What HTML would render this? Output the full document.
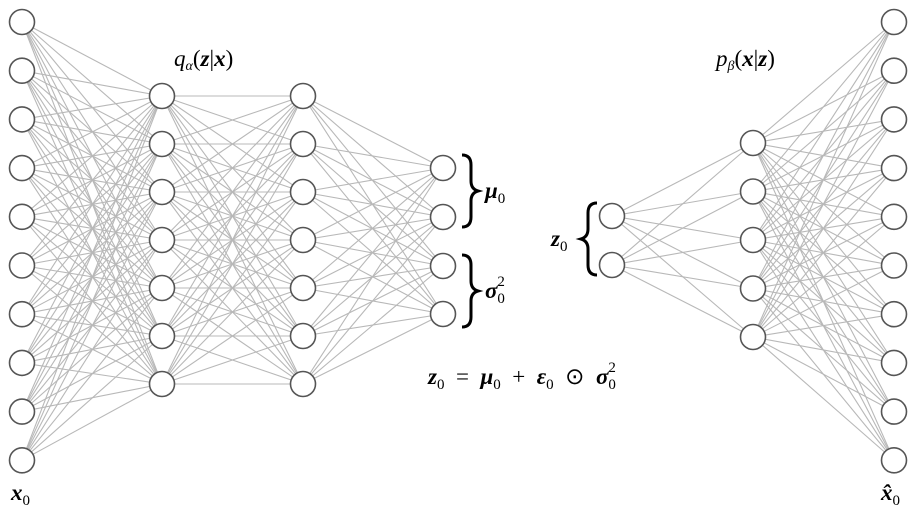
<!DOCTYPE html>
<html><head><meta charset="utf-8"><style>
html,body{margin:0;padding:0;background:#fff;width:922px;height:511px;overflow:hidden}
svg text{font-family:"Liberation Serif",serif;}
</style></head><body>
<svg id="s" width="922" height="511" xmlns="http://www.w3.org/2000/svg">
<g id="lines" stroke="#b8b8b8" stroke-width="1.1"></g>
<g id="nodes" fill="#fff" stroke="#555" stroke-width="1.6"></g>
<text x="174" y="66" font-size="23" font-style="italic">q<tspan font-size="14" dy="4">α</tspan><tspan dy="-4" font-style="normal">(</tspan><tspan font-weight="bold">z</tspan><tspan font-style="normal">|</tspan><tspan font-weight="bold">x</tspan><tspan font-style="normal">)</tspan></text>
<text x="716" y="66" font-size="23" font-style="italic">p<tspan font-size="14" dy="4">β</tspan><tspan dy="-4" font-style="normal">(</tspan><tspan font-weight="bold">x</tspan><tspan font-style="normal">|</tspan><tspan font-weight="bold">z</tspan><tspan font-style="normal">)</tspan></text>
<path d="M462,155 q9,0 9,10 v16 q0,8 7,10 q-7,2 -7,10 v16 q0,10 -9,10" fill="none" stroke="#000" stroke-width="3"/>
<path d="M462,255 q9,0 9,10 v16 q0,8 7,10 q-7,2 -7,10 v16 q0,10 -9,10" fill="none" stroke="#000" stroke-width="3"/>
<path d="M597,203 q-9,0 -9,10 v16 q0,8 -7,10 q7,2 7,10 v16 q0,10 9,10" fill="none" stroke="#000" stroke-width="3"/>
<text x="485" y="198" font-size="23" font-weight="bold" font-style="italic">μ<tspan font-size="15" font-weight="normal" font-style="normal" dy="5">0</tspan></text>
<text x="485" y="298" font-size="23" font-weight="bold" font-style="italic">σ<tspan font-size="15" font-weight="normal" font-style="normal" dy="5">0</tspan><tspan font-size="15" font-weight="normal" font-style="normal" dx="-7.5" dy="-17">2</tspan></text>
<text x="551" y="246" font-size="23" font-weight="bold" font-style="italic">z<tspan font-size="15" font-weight="normal" font-style="normal" dy="5">0</tspan></text>
<text x="428" y="384" font-size="23" font-weight="bold" font-style="italic" xml:space="preserve">z<tspan font-size="15" font-weight="normal" font-style="normal" dy="5">0</tspan><tspan font-weight="normal" font-style="normal" dy="-5">  =  </tspan>μ<tspan font-size="15" font-weight="normal" font-style="normal" dy="5">0</tspan><tspan font-weight="normal" font-style="normal" dy="-5">  +  </tspan>ε<tspan font-size="15" font-weight="normal" font-style="normal" dy="5">0</tspan><tspan font-weight="normal" font-style="normal" dy="-5">  ⊙  </tspan>σ<tspan font-size="15" font-weight="normal" font-style="normal" dy="5">0</tspan><tspan font-size="15" font-weight="normal" font-style="normal" dx="-7.5" dy="-17">2</tspan></text>
<text x="11" y="500" font-size="23" font-weight="bold" font-style="italic">x<tspan font-size="15" font-weight="normal" font-style="normal" dy="5">0</tspan></text>
<text x="881" y="500" font-size="23" font-weight="bold" font-style="italic">x̂<tspan font-size="15" font-weight="normal" font-style="normal" dy="5">0</tspan></text>
</svg>
<script>
var NS="http://www.w3.org/2000/svg";
function ys(n,s,d){var a=[];for(var i=0;i<n;i++)a.push(s+i*d);return a;}
var L=[
 {x:22,y:ys(10,22,48.7)},
 {x:162,y:ys(7,96,48)},
 {x:303,y:ys(7,96,48)},
 {x:443,y:[168,217,266,314]},
 null,
 {x:612,y:[216,265]},
 {x:753,y:ys(5,143,48.5)},
 {x:894,y:ys(10,22,48.7)}
];
var lg=document.getElementById("lines"),ng=document.getElementById("nodes");
for(var k=0;k<L.length-1;k++){var a=L[k],b=L[k+1];if(!a||!b)continue;
 a.y.forEach(function(y1){b.y.forEach(function(y2){var l=document.createElementNS(NS,"line");
 l.setAttribute("x1",a.x);l.setAttribute("y1",y1);l.setAttribute("x2",b.x);l.setAttribute("y2",y2);lg.appendChild(l);});});}
L.forEach(function(a){if(!a)return;a.y.forEach(function(y){var c=document.createElementNS(NS,"circle");
 c.setAttribute("cx",a.x);c.setAttribute("cy",y);c.setAttribute("r",12.5);ng.appendChild(c);});});
</script>
</body></html>
